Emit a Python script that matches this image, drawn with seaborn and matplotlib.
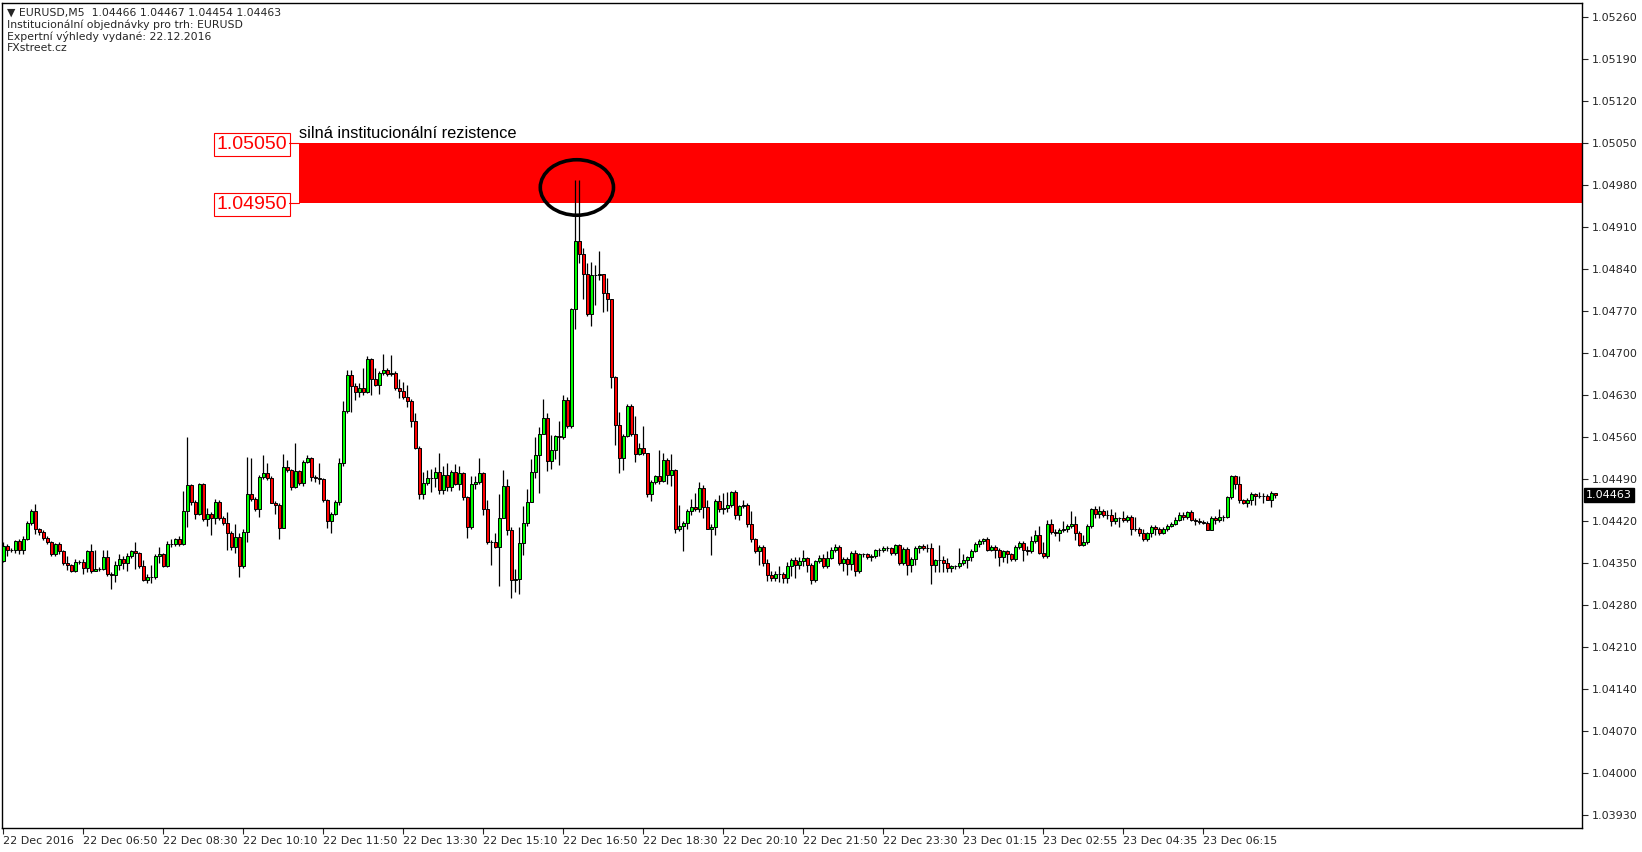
import numpy as np
import pandas as pd
import seaborn as sns
import matplotlib
matplotlib.use("Agg")
from matplotlib import pyplot as plt
from matplotlib.patches import Ellipse

# EURUSD M5 candles (open = previous close)
first_open = 1.04353
closes = [
    1.04378, 1.04371, 1.04372, 1.04386, 1.04372, 1.04389, 1.04416, 1.04436, 1.04406, 1.04401,
    1.04391, 1.04384, 1.04365, 1.04381, 1.04370, 1.04349, 1.04346, 1.04337, 1.04351, 1.04352,
    1.04342, 1.04370, 1.04336, 1.04339, 1.04340, 1.04360, 1.04331, 1.04330, 1.04346, 1.04357,
    1.04350, 1.04361, 1.04369, 1.04366, 1.04345, 1.04322, 1.04326, 1.04326, 1.04361, 1.04364,
    1.04345, 1.04381, 1.04381, 1.04389, 1.04381, 1.04436, 1.04479, 1.04452, 1.04431, 1.04481,
    1.04423, 1.04432, 1.04425, 1.04451, 1.04425, 1.04416, 1.04400, 1.04376, 1.04393, 1.04345,
    1.04401, 1.04464, 1.04456, 1.04439, 1.04493, 1.04499, 1.04492, 1.04450, 1.04446, 1.04408,
    1.04509, 1.04504, 1.04477, 1.04503, 1.04483, 1.04518, 1.04524, 1.04493, 1.04491, 1.04489,
    1.04454, 1.04420, 1.04432, 1.04451, 1.04517, 1.04603, 1.04663, 1.04645, 1.04635, 1.04642,
    1.04635, 1.04689, 1.04657, 1.04647, 1.04666, 1.04671, 1.04665, 1.04666, 1.04641, 1.04637,
    1.04626, 1.04620, 1.04587, 1.04542, 1.04464, 1.04483, 1.04492, 1.04492, 1.04501, 1.04472,
    1.04496, 1.04477, 1.04502, 1.04482, 1.04499, 1.04459, 1.04409, 1.04481, 1.04484, 1.04499,
    1.04439, 1.04384, 1.04385, 1.04377, 1.04424, 1.04478, 1.04404, 1.04322, 1.04323, 1.04383,
    1.04417, 1.04451, 1.04502, 1.04529, 1.04564, 1.04592, 1.04520, 1.04538, 1.04561, 1.04560,
    1.04621, 1.04578, 1.04773, 1.04887, 1.04865, 1.04832, 1.04765, 1.04830, 1.04829, 1.04832,
    1.04800, 1.04789, 1.04659, 1.04579, 1.04524, 1.04562, 1.04611, 1.04565, 1.04532, 1.04541,
    1.04533, 1.04464, 1.04485, 1.04494, 1.04487, 1.04522, 1.04496, 1.04504, 1.04406, 1.04411,
    1.04416, 1.04437, 1.04443, 1.04439, 1.04475, 1.04443, 1.04406, 1.04410, 1.04453, 1.04439,
    1.04441, 1.04446, 1.04468, 1.04429, 1.04444, 1.04447, 1.04415, 1.04389, 1.04369, 1.04376,
    1.04350, 1.04329, 1.04325, 1.04332, 1.04331, 1.04325, 1.04344, 1.04354, 1.04347, 1.04353,
    1.04358, 1.04346, 1.04321, 1.04353, 1.04358, 1.04344, 1.04358, 1.04371, 1.04376, 1.04350,
    1.04356, 1.04348, 1.04366, 1.04336, 1.04364, 1.04365, 1.04359, 1.04361, 1.04371, 1.04371,
    1.04375, 1.04374, 1.04366, 1.04379, 1.04350, 1.04373, 1.04346, 1.04357, 1.04375, 1.04378,
    1.04375, 1.04375, 1.04347, 1.04354, 1.04354, 1.04349, 1.04342, 1.04344, 1.04344, 1.04350,
    1.04354, 1.04359, 1.04370, 1.04381, 1.04386, 1.04390, 1.04372, 1.04376, 1.04372, 1.04359,
    1.04369, 1.04364, 1.04356, 1.04377, 1.04383, 1.04371, 1.04369, 1.04386, 1.04396, 1.04366,
    1.04361, 1.04414, 1.04402, 1.04400, 1.04405, 1.04407, 1.04411, 1.04414, 1.04400, 1.04380,
    1.04385, 1.04411, 1.04440, 1.04432, 1.04436, 1.04430, 1.04430, 1.04419, 1.04425, 1.04425,
    1.04421, 1.04427, 1.04407, 1.04406, 1.04399, 1.04389, 1.04399, 1.04409, 1.04406, 1.04400,
    1.04406, 1.04412, 1.04415, 1.04422, 1.04429, 1.04426, 1.04435, 1.04422, 1.04420, 1.04418,
    1.04417, 1.04405, 1.04425, 1.04421, 1.04427, 1.04427, 1.04459, 1.04494, 1.04481, 1.04454,
    1.04449, 1.04454, 1.04464, 1.04462, 1.04462, 1.04462, 1.04455, 1.04467, 1.04463,
]
# wick lengths above / below the body, in pips
wick_up = [
    0.7, 0.3, 0.2, 0.2, 0.3, 0.6, 0.3, 0.3, 1.2, 0.2,
    0.3, 0.3, 0.2, 0.2, 0.4, 0.2, 1.3, 0.2, 0.5, 0.3,
    0.5, 0.2, 1.2, 3.3, 0.3, 1.2, 1.2, 0.3, 0.7, 0.8,
    0.5, 0.5, 0.3, 1.5, 0.2, 1.0, 0.6, 2.0, 0.3, 1.2,
    0.2, 0.5, 0.8, 0.3, 0.5, 3.4, 8.0, 0.2, 0.2, 0.2,
    0.2, 1.0, 0.3, 0.6, 0.3, 0.3, 1.8, 0.3, 2.1, 0.6,
    0.5, 6.2, 6.1, 0.3, 0.3, 3.0, 1.8, 0.3, 0.3, 0.3,
    2.3, 1.2, 0.2, 4.6, 0.2, 0.4, 0.6, 0.3, 0.4, 2.5,
    0.2, 0.2, 0.3, 0.3, 0.8, 1.7, 0.9, 0.8, 0.5, 0.8,
    3.2, 0.6, 0.3, 1.8, 0.3, 2.7, 0.3, 3.0, 0.3, 1.5,
    1.5, 2.0, 0.3, 1.2, 0.3, 1.8, 1.2, 1.5, 0.8, 3.2,
    1.6, 2.0, 0.3, 1.2, 1.2, 0.3, 0.3, 1.3, 1.0, 2.5,
    0.3, 1.5, 0.3, 1.5, 4.0, 2.7, 1.1, 0.5, 1.6, 2.7,
    2.8, 2.2, 2.1, 3.0, 1.2, 3.1, 0.8, 2.5, 0.2, 2.6,
    0.9, 0.5, 0.2, 10.1, 10.1, 1.0, 1.8, 2.1, 1.7, 3.8,
    0.0, 2.5, 0.0, 0.3, 2.2, 0.3, 0.3, 0.3, 3.0, 0.8,
    3.7, 0.0, 0.3, 0.3, 4.4, 1.1, 0.3, 2.8, 0.3, 3.5,
    0.3, 0.2, 1.4, 2.3, 0.9, 0.4, 1.2, 0.5, 0.3, 1.0,
    2.6, 2.2, 0.2, 0.3, 0.3, 0.7, 0.3, 2.1, 0.3, 0.3,
    0.3, 0.6, 0.7, 0.4, 1.3, 0.3, 0.8, 0.4, 0.5, 0.6,
    1.4, 0.2, 0.3, 0.2, 0.5, 0.6, 1.1, 0.6, 0.6, 0.3,
    0.3, 0.3, 0.4, 0.6, 0.3, 0.2, 0.2, 0.3, 0.2, 0.3,
    0.3, 0.3, 0.3, 0.2, 0.3, 0.3, 0.3, 0.3, 0.3, 0.2,
    0.3, 0.6, 0.8, 0.3, 2.6, 0.7, 0.9, 0.3, 0.3, 2.5,
    1.0, 0.3, 0.3, 0.3, 0.4, 0.2, 0.3, 0.3, 0.3, 0.3,
    0.3, 0.3, 0.3, 0.3, 0.4, 0.4, 0.7, 0.9, 0.9, 1.5,
    1.8, 0.7, 0.9, 0.4, 0.3, 1.2, 0.3, 2.2, 1.4, 0.3,
    1.2, 0.3, 0.2, 0.4, 0.8, 0.3, 0.8, 0.9, 0.9, 0.2,
    1.1, 0.3, 0.3, 2.0, 0.3, 0.8, 0.3, 0.4, 0.4, 0.3,
    0.3, 0.2, 0.3, 0.4, 0.6, 0.6, 0.2, 0.3, 0.3, 0.4,
    0.3, 0.3, 0.3, 0.3, 1.2, 0.2, 0.3, 0.3, 0.3, 1.4,
    0.3, 0.4, 0.4, 0.2, 0.6, 0.4, 0.3, 0.2, 0.0,
]
wick_dn = [
    0.2, 1.0, 0.3, 0.6, 0.8, 0.8, 0.1, 0.3, 0.8, 0.5,
    0.3, 0.3, 0.3, 0.3, 0.5, 0.3, 0.8, 0.3, 0.2, 0.3,
    1.1, 0.8, 0.3, 0.0, 0.3, 0.2, 0.3, 2.3, 1.2, 0.8,
    1.0, 1.4, 0.3, 2.7, 0.3, 0.2, 0.6, 0.9, 0.3, 1.2,
    0.2, 0.2, 0.5, 0.3, 0.3, 0.2, 2.6, 0.5, 0.8, 0.2,
    0.3, 1.2, 2.8, 1.0, 0.3, 0.3, 2.8, 0.4, 1.0, 1.8,
    0.3, 1.6, 0.3, 0.2, 1.2, 0.3, 0.4, 0.0, 1.4, 1.9,
    0.0, 0.2, 0.5, 0.2, 0.4, 0.5, 0.2, 0.6, 0.6, 0.8,
    0.2, 1.2, 2.0, 0.3, 0.5, 0.5, 0.3, 4.3, 1.4, 0.8,
    0.5, 0.2, 2.8, 0.3, 1.6, 0.3, 0.3, 0.3, 0.3, 1.3,
    0.3, 1.0, 1.0, 0.3, 0.8, 0.8, 0.3, 2.4, 1.6, 0.8,
    0.8, 0.8, 0.8, 0.3, 1.0, 0.5, 1.8, 0.3, 0.8, 0.3,
    1.0, 0.3, 3.8, 0.3, 6.6, 0.0, 0.8, 3.0, 2.0, 2.5,
    2.0, 0.6, 0.0, 1.0, 6.3, 0.0, 1.7, 1.3, 1.5, 4.7,
    0.3, 0.3, 0.3, 3.3, 1.5, 4.2, 0.3, 2.0, 5.0, 0.8,
    3.2, 2.0, 1.8, 3.3, 2.5, 2.0, 0.3, 0.3, 1.4, 0.3,
    0.3, 0.4, 1.1, 0.3, 0.5, 0.3, 1.5, 1.8, 0.7, 0.3,
    4.2, 1.0, 0.7, 0.2, 0.4, 1.8, 0.0, 4.3, 1.3, 0.5,
    0.8, 0.6, 0.3, 0.6, 0.8, 0.3, 0.6, 0.4, 0.3, 2.2,
    0.6, 1.0, 0.6, 0.6, 1.3, 0.8, 0.8, 1.6, 2.2, 0.8,
    0.8, 1.1, 0.7, 0.3, 0.3, 0.2, 0.3, 0.2, 0.3, 0.3,
    1.4, 1.8, 1.0, 0.8, 0.3, 0.4, 0.2, 0.6, 0.3, 1.0,
    0.3, 0.4, 0.3, 0.3, 0.3, 0.3, 1.7, 1.1, 1.1, 0.9,
    0.3, 0.7, 3.2, 1.3, 2.0, 1.5, 0.8, 0.8, 0.4, 0.3,
    0.3, 1.2, 0.6, 0.2, 0.4, 0.4, 0.3, 0.3, 1.4, 1.4,
    0.7, 1.4, 0.3, 0.3, 0.4, 1.8, 0.6, 0.3, 0.3, 0.1,
    0.3, 0.3, 0.4, 0.6, 1.4, 0.3, 0.5, 0.3, 1.2, 0.2,
    0.2, 0.3, 0.3, 0.8, 0.7, 0.3, 0.7, 0.7, 0.4, 1.6,
    0.3, 0.3, 1.1, 0.3, 0.4, 0.2, 0.2, 0.6, 1.0, 0.3,
    0.2, 0.3, 0.3, 0.2, 0.2, 0.4, 0.3, 0.2, 0.7, 0.4,
    0.2, 0.1, 0.1, 0.7, 0.3, 0.7, 0.2, 0.3, 0.8, 0.4,
    0.1, 0.6, 0.7, 1.5, 0.4, 1.2, 0.1, 1.2, 0.5,
]
time_labels = ["22 Dec 2016", "22 Dec 06:50", "22 Dec 08:30", "22 Dec 10:10", "22 Dec 11:50",
               "22 Dec 13:30", "22 Dec 15:10", "22 Dec 16:50", "22 Dec 18:30", "22 Dec 20:10",
               "22 Dec 21:50", "22 Dec 23:30", "23 Dec 01:15", "23 Dec 02:55", "23 Dec 04:35",
               "23 Dec 06:15"]
axis_prices = [1.05260, 1.05190, 1.05120, 1.05050, 1.04980, 1.04910, 1.04840, 1.04770,
               1.04700, 1.04630, 1.04560, 1.04490, 1.04420, 1.04350, 1.04280, 1.04210,
               1.04140, 1.04070, 1.04000, 1.03930]
zone_top, zone_bottom = 1.05050, 1.04950
last_price = 1.04463
header = ["\u25bc EURUSD,M5  1.04466 1.04467 1.04454 1.04463",
          "Institucionální objednávky pro trh: EURUSD",
          "Expertní výhledy vydané: 22.12.2016",
          "FXstreet.cz"]

pip = 0.0001
df = pd.DataFrame({"close": closes, "up": wick_up, "dn": wick_dn})
df["open"] = [first_open] + closes[:-1]
df["top"] = df[["open", "close"]].max(axis=1)
df["bot"] = df[["open", "close"]].min(axis=1)
df["high"] = df.top + df.up * pip
df["low"] = df.bot - df.dn * pip
df["x"] = np.arange(len(df))
df["color"] = np.where(df.close > df.open, "#00ff00", np.where(df.close < df.open, "#ff0000", "black"))

sns.set_style("white")
plt.rcParams["font.family"] = ["DejaVu Sans"]

fig = plt.figure(figsize=(16.42, 8.52), dpi=100)
ax = fig.add_axes([0.0014, 0.0282, 0.9621, 0.9683])
ax.set_xlim(-0.25, 394.7)
ax.set_ylim(1.03908, 1.05283)

# resistance zone
ax.fill_between([74.05, 394.7], zone_bottom, zone_top, color="#ff0000", lw=0, zorder=1)

# candles
ax.vlines(df.x, df.low, df.high, color="black", lw=0.9, zorder=2)
ax.bar(df.x, df.top - df.bot, bottom=df.bot, width=0.8, color=df.color,
       edgecolor="black", linewidth=0.7, zorder=3)

# circle around the spike
ax.add_patch(Ellipse((143.4, 1.049755), 18.3, 0.000925, fill=False, ec="black", lw=2.6, zorder=4))

# zone labels
for p in (zone_top, zone_bottom):
    ax.text(71.0, p, f"{p:.5f}", ha="right", va="center_baseline", color="red", fontsize=14,
            family="Liberation Sans", zorder=5,
            bbox=dict(boxstyle="square,pad=0.15", fc="white", ec="red", lw=0.8))
    ax.plot([71.5, 74.05], [p, p], color="red", lw=0.8, zorder=5)
ax.text(74.05, 1.05058, "silná institucionální rezistence", ha="left", va="baseline",
        fontsize=11.8, family="Liberation Sans", color="black")

# header text
for i, line in enumerate(header):
    fig.text(7 / 1642, 1 - (12.6 + 11.9 * i) / 852, line, ha="left", va="center", fontsize=7.8)

# axes
for s in ax.spines.values():
    s.set_color("black")
    s.set_linewidth(1)
ax.yaxis.tick_right()
ax.set_yticks(axis_prices)
ax.set_yticklabels([f"{p:.5f}" for p in axis_prices])
ax.set_xticks(np.arange(0, 20 * len(time_labels), 20))
ax.set_xticklabels(time_labels, ha="left")
ax.tick_params(axis="y", direction="out", length=4, width=0.8, labelsize=8, pad=3, right=True, left=False)
ax.tick_params(axis="x", direction="out", length=4, width=0.8, labelsize=8, pad=2, bottom=True)

ax.text(1.0025, last_price, f"{last_price:.5f}", transform=ax.get_yaxis_transform(),
        ha="left", va="center", color="white", fontsize=8,
        bbox=dict(boxstyle="square,pad=0.15", fc="black", ec="black"))

fig.savefig("out.png", dpi=100, facecolor="white")
